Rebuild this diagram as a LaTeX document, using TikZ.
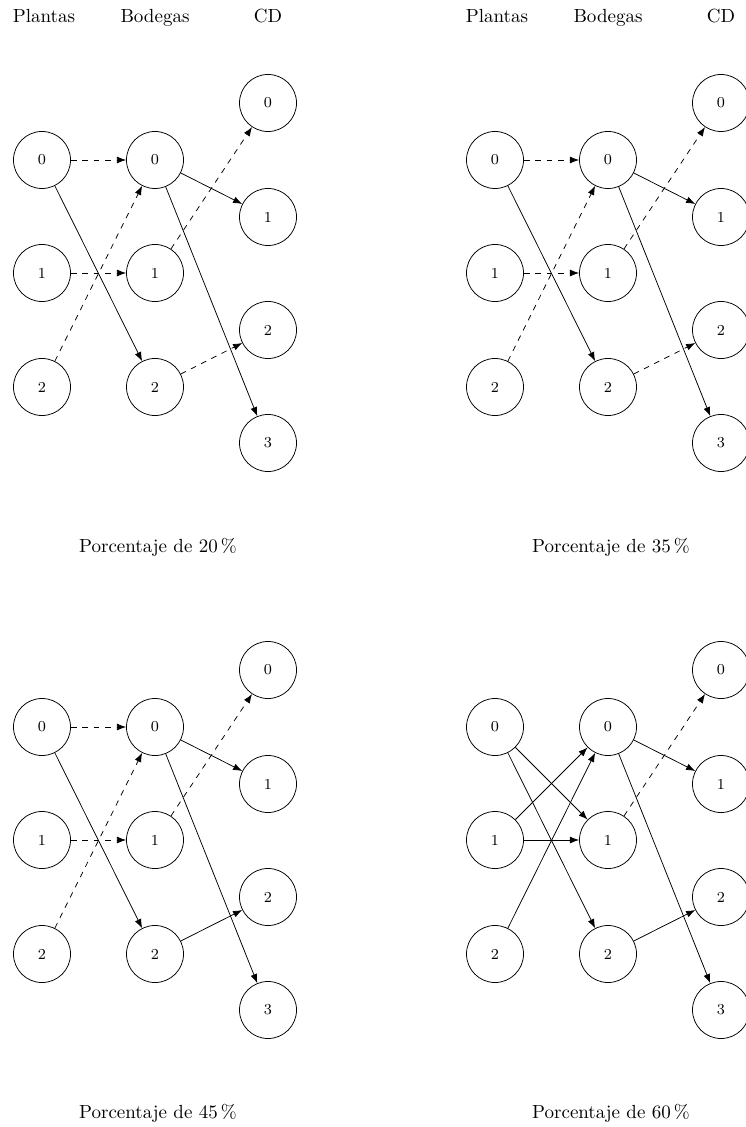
\documentclass[tikz,border=0pt]{standalone}
\usetikzlibrary{arrows.meta}
\tikzset{
  st/.style={circle,draw,minimum size=1.0545cm,inner sep=0pt,font=\footnotesize},
  hd/.style={anchor=base,font=\normalsize},
  captxt/.style={anchor=base,font=\normalsize},
  sol/.style={-{Latex},line width=0.4pt},
  das/.style={-{Latex},dashed,line width=0.4pt}
}
\newcommand{\mkpanel}[3]{%
  \node[st] (#1p0) at (42+#2,160+#3) {0};
  \node[st] (#1p1) at (42+#2,273+#3) {1};
  \node[st] (#1p2) at (42+#2,387+#3) {2};
  \node[st] (#1b0) at (155+#2,160+#3) {0};
  \node[st] (#1b1) at (155+#2,273+#3) {1};
  \node[st] (#1b2) at (155+#2,387+#3) {2};
  \node[st] (#1c0) at (268+#2,103+#3) {0};
  \node[st] (#1c1) at (268+#2,217+#3) {1};
  \node[st] (#1c2) at (268+#2,330+#3) {2};
  \node[st] (#1c3) at (268+#2,443+#3) {3};
}
\begin{document}
\begin{tikzpicture}[x=0.0185cm,y=-0.0185cm]
\useasboundingbox (0,0) rectangle (745,1127);
% headers
\node[hd] (h1) at (44,23) {Plantas};
\node[hd] (h2) at (155,23) {Bodegas};
\node[hd] (h3) at (268,23) {CD};
\node[hd] (h4) at (497,23) {Plantas};
\node[hd] (h5) at (608,23) {Bodegas};
\node[hd] (h6) at (721,23) {CD};
% panels
\mkpanel{a}{0}{0}
\mkpanel{b}{453}{0}
\mkpanel{c}{0}{567}
\mkpanel{d}{453}{567}
% captions
\node[captxt] (ca) at (158,552) {Porcentaje de 20\,\%};
\node[captxt] (cb) at (611,552) {Porcentaje de 35\,\%};
\node[captxt] (cc) at (158,1118) {Porcentaje de 45\,\%};
\node[captxt] (cd) at (611,1118) {Porcentaje de 60\,\%};
% panel a
\draw[das] (ap0) -- (ab0);
\draw[sol] (ap0) -- (ab2);
\draw[das] (ap1) -- (ab1);
\draw[das] (ap2) -- (ab0);
\draw[sol] (ab0) -- (ac1);
\draw[sol] (ab0) -- (ac3);
\draw[das] (ab1) -- (ac0);
\draw[das] (ab2) -- (ac2);
% panel b
\draw[das] (bp0) -- (bb0);
\draw[sol] (bp0) -- (bb2);
\draw[das] (bp1) -- (bb1);
\draw[das] (bp2) -- (bb0);
\draw[sol] (bb0) -- (bc1);
\draw[sol] (bb0) -- (bc3);
\draw[das] (bb1) -- (bc0);
\draw[das] (bb2) -- (bc2);
% panel c
\draw[das] (cp0) -- (cb0);
\draw[sol] (cp0) -- (cb2);
\draw[das] (cp1) -- (cb1);
\draw[das] (cp2) -- (cb0);
\draw[sol] (cb0) -- (cc1);
\draw[sol] (cb0) -- (cc3);
\draw[das] (cb1) -- (cc0);
\draw[sol] (cb2) -- (cc2);
% panel d
\draw[sol] (dp0) -- (db1);
\draw[sol] (dp0) -- (db2);
\draw[sol] (dp1) -- (db0);
\draw[sol] (dp1) -- (db1);
\draw[sol] (dp2) -- (db0);
\draw[sol] (db0) -- (dc1);
\draw[sol] (db0) -- (dc3);
\draw[das] (db1) -- (dc0);
\draw[sol] (db2) -- (dc2);
\end{tikzpicture}
\end{document}
